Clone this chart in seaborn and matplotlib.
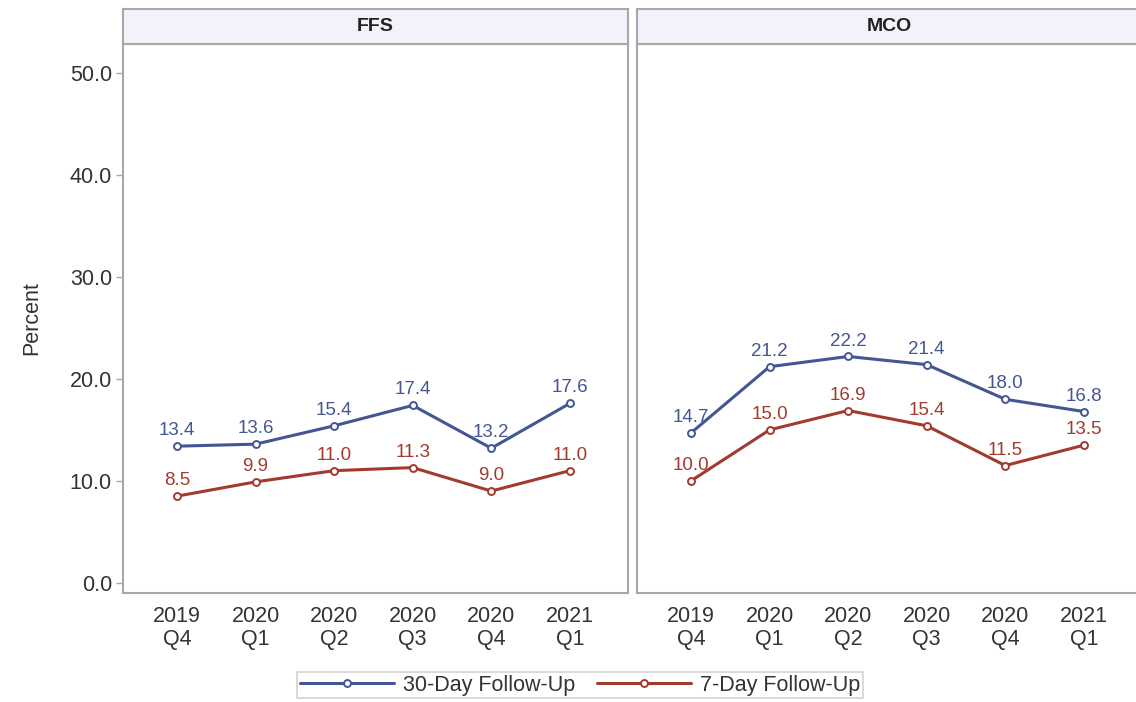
import matplotlib
matplotlib.use("Agg")
import matplotlib.pyplot as plt
import seaborn as sns
import pandas as pd
from matplotlib.lines import Line2D

quarters = ["2019\nQ4", "2020\nQ1", "2020\nQ2", "2020\nQ3", "2020\nQ4", "2021\nQ1"]
panels = ["FFS", "MCO"]
ffs_30 = [13.4, 13.6, 15.4, 17.4, 13.2, 17.6]
ffs_7 = [8.5, 9.9, 11.0, 11.3, 9.0, 11.0]
mco_30 = [14.7, 21.2, 22.2, 21.4, 18.0, 16.8]
mco_7 = [10.0, 15.0, 16.9, 15.4, 11.5, 13.5]
series = ["30-Day Follow-Up", "7-Day Follow-Up"]

rows = []
for panel, s30, s7 in [("FFS", ffs_30, ffs_7), ("MCO", mco_30, mco_7)]:
    for i, q in enumerate(quarters):
        rows.append({"panel": panel, "x": i, "quarter": q, "series": series[0], "pct": s30[i]})
        rows.append({"panel": panel, "x": i, "quarter": q, "series": series[1], "pct": s7[i]})
df = pd.DataFrame(rows)

sns.set_style("white")
plt.rcParams["font.family"] = ["Liberation Sans", "DejaVu Sans"]

colors = {series[0]: "#445694", series[1]: "#A23A2E"}
grey = "#a8a8a8"
txt = "#333333"
fs = 15.5

fig = plt.figure(figsize=(11.36, 7.02), dpi=100)
W, H = 1136, 702
left0, right0 = 123, 628
left1 = 637
pw = right0 - left0
top, bottom = 44, 593
hdr_top = 9

for k, panel in enumerate(panels):
    lx = left0 if k == 0 else left1
    ax = fig.add_axes([lx / W, (H - bottom) / H, pw / W, (bottom - top) / H])
    sub = df[df.panel == panel]
    sns.lineplot(data=sub, x="x", y="pct", hue="series", palette=colors,
                 marker="o", markersize=5, markerfacecolor="white",
                 markeredgewidth=1.4, linewidth=2.2, ax=ax, legend=False)
    for line, s in zip(ax.get_lines(), series):
        line.set_markeredgecolor(colors[s])
    for _, r in sub.iterrows():
        ax.annotate(f"{r.pct:.1f}", (r.x, r.pct), xytext=(0, 5),
                    textcoords="offset points", ha="center", va="bottom",
                    fontsize=13.5, color=colors[r.series])
    ax.set_xlim(-0.687, 5.74)
    ax.set_ylim(-1.0, 52.85)
    ax.set_xticks(range(len(quarters)))
    ax.set_xticklabels(quarters, fontsize=fs, color=txt, linespacing=1.15)
    ax.tick_params(axis="x", length=0, pad=9)
    ax.set_yticks([0, 10, 20, 30, 40, 50])
    if k == 0:
        ax.set_yticklabels([f"{v:.1f}" for v in [0, 10, 20, 30, 40, 50]],
                           fontsize=fs, color=txt)
        ax.tick_params(axis="y", length=5, color=grey, width=1, left=True, pad=3)
        ax.set_ylabel("Percent", fontsize=fs, color=txt, labelpad=20)
    else:
        ax.set_yticklabels([])
        ax.tick_params(axis="y", length=0)
        ax.set_ylabel("")
    ax.set_xlabel("")
    for sp in ax.spines.values():
        sp.set_color(grey)
        sp.set_linewidth(1.5)

    hax = fig.add_axes([lx / W, (H - top) / H, pw / W, (top - hdr_top) / H])
    hax.set_facecolor("#f2f3fa")
    hax.set_xticks([])
    hax.set_yticks([])
    for sp in hax.spines.values():
        sp.set_color(grey)
        sp.set_linewidth(1.5)
    hax.text(0.5, 0.5, panel, ha="center", va="center", fontsize=14,
             fontweight="bold", color="#222222")

handles = [Line2D([0], [0], color=colors[s], linewidth=2.2, marker="o",
                  markersize=5, markerfacecolor="white", markeredgewidth=1.4,
                  markeredgecolor=colors[s]) for s in series]
leg = fig.legend(handles, series, loc="center", bbox_to_anchor=(580 / W, 17 / H),
                 ncol=2, frameon=True, fontsize=15.5, handlelength=4.4,
                 columnspacing=1.0, handletextpad=0.4, borderpad=0.1,
                 borderaxespad=0, fancybox=False)
leg.get_frame().set_edgecolor("#c8c8c8")
leg.get_frame().set_linewidth(1.2)
for t in leg.get_texts():
    t.set_color(txt)

fig.savefig("out.png", dpi=100, facecolor="white")
